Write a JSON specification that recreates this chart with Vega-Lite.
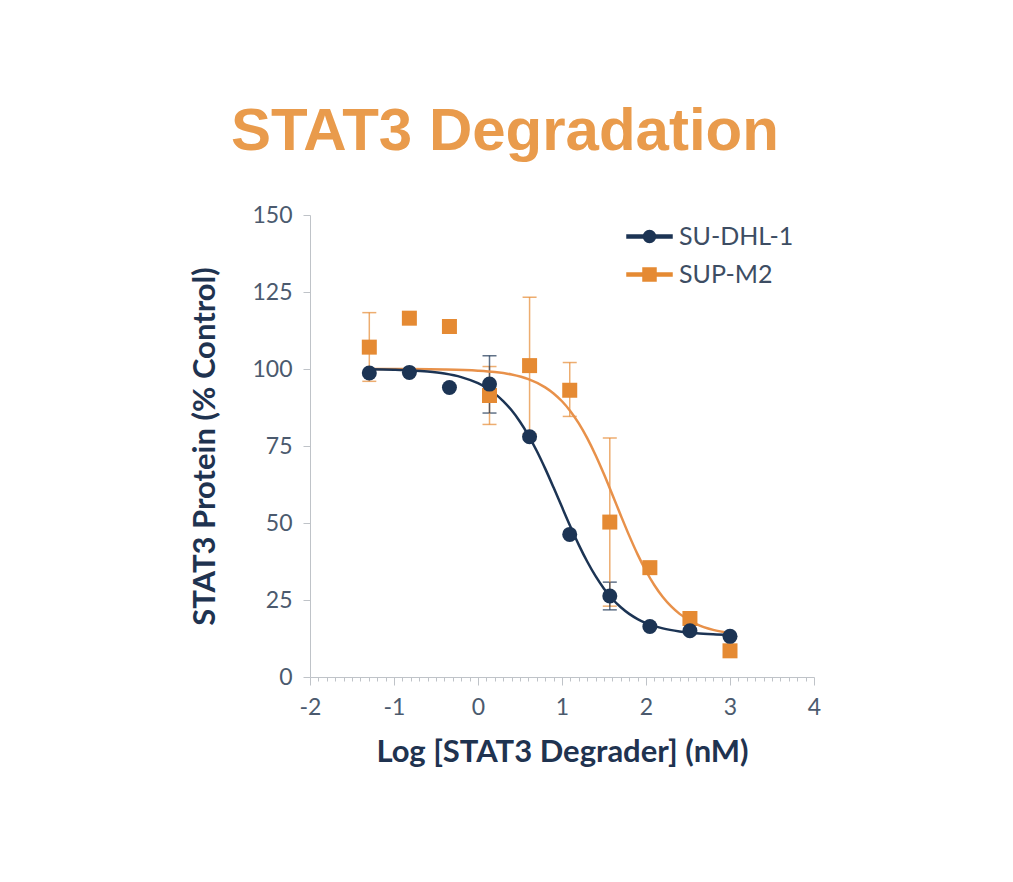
{
  "$schema": "https://vega.github.io/schema/vega-lite/v6.json",
  "description": "STAT3 degradation dose-response curves for two cell lines.",
  "width": 504,
  "height": 462,
  "autosize": {"type": "none"},
  "padding": {"left": 310, "top": 215, "right": 199, "bottom": 205},
  "background": "white",
  "config": {
    "view": {"stroke": null},
    "font": "Lato"
  },
  "title": {
    "text": "STAT3 Degradation",
    "font": "Liberation Sans",
    "fontSize": 60,
    "fontWeight": "bold",
    "color": "#E99B4C",
    "anchor": "middle",
    "dx": -57,
    "dy": 68,
    "baseline": "alphabetic",
    "offset": 62
  },
  "datasets": {
    "points": [
      {"line": "SUP-M2", "logc": -1.294, "pct": 107.1, "lo": 96.0, "hi": 118.3},
      {"line": "SUP-M2", "logc": -0.817, "pct": 116.5},
      {"line": "SUP-M2", "logc": -0.34, "pct": 113.8},
      {"line": "SUP-M2", "logc": 0.137, "pct": 91.4, "lo": 82.0, "hi": 100.8},
      {"line": "SUP-M2", "logc": 0.614, "pct": 101.1, "lo": 79.0, "hi": 123.3},
      {"line": "SUP-M2", "logc": 1.092, "pct": 93.1, "lo": 84.6, "hi": 102.1},
      {"line": "SUP-M2", "logc": 1.569, "pct": 50.3, "lo": 23.0, "hi": 77.6},
      {"line": "SUP-M2", "logc": 2.046, "pct": 35.5},
      {"line": "SUP-M2", "logc": 2.523, "pct": 19.0},
      {"line": "SUP-M2", "logc": 3.0, "pct": 8.5},
      {"line": "SU-DHL-1", "logc": -1.294, "pct": 98.7},
      {"line": "SU-DHL-1", "logc": -0.817, "pct": 98.9},
      {"line": "SU-DHL-1", "logc": -0.34, "pct": 94.0},
      {"line": "SU-DHL-1", "logc": 0.137, "pct": 95.1, "lo": 85.7, "hi": 104.3},
      {"line": "SU-DHL-1", "logc": 0.614, "pct": 78.0},
      {"line": "SU-DHL-1", "logc": 1.092, "pct": 46.3},
      {"line": "SU-DHL-1", "logc": 1.569, "pct": 26.3, "lo": 21.8, "hi": 30.8},
      {"line": "SU-DHL-1", "logc": 2.046, "pct": 16.4},
      {"line": "SU-DHL-1", "logc": 2.523, "pct": 15.0},
      {"line": "SU-DHL-1", "logc": 3.0, "pct": 13.2}
    ],
    "fitSUP": [
      {"line": "SUP-M2", "logc": -1.3, "pct": 99.99},
      {"line": "SUP-M2", "logc": -0.8, "pct": 99.96},
      {"line": "SUP-M2", "logc": -0.4, "pct": 99.85},
      {"line": "SUP-M2", "logc": 0.0, "pct": 99.47},
      {"line": "SUP-M2", "logc": 0.2, "pct": 99.02},
      {"line": "SUP-M2", "logc": 0.4, "pct": 98.2},
      {"line": "SUP-M2", "logc": 0.6, "pct": 96.7},
      {"line": "SUP-M2", "logc": 0.8, "pct": 94.05},
      {"line": "SUP-M2", "logc": 0.9, "pct": 92.07},
      {"line": "SUP-M2", "logc": 1.0, "pct": 89.53},
      {"line": "SUP-M2", "logc": 1.1, "pct": 86.31},
      {"line": "SUP-M2", "logc": 1.2, "pct": 82.34},
      {"line": "SUP-M2", "logc": 1.3, "pct": 77.56},
      {"line": "SUP-M2", "logc": 1.4, "pct": 72.01},
      {"line": "SUP-M2", "logc": 1.5, "pct": 65.82},
      {"line": "SUP-M2", "logc": 1.6, "pct": 59.2},
      {"line": "SUP-M2", "logc": 1.7, "pct": 52.46},
      {"line": "SUP-M2", "logc": 1.8, "pct": 45.9},
      {"line": "SUP-M2", "logc": 1.9, "pct": 39.82},
      {"line": "SUP-M2", "logc": 2.0, "pct": 34.42},
      {"line": "SUP-M2", "logc": 2.1, "pct": 29.8},
      {"line": "SUP-M2", "logc": 2.2, "pct": 25.98},
      {"line": "SUP-M2", "logc": 2.3, "pct": 22.91},
      {"line": "SUP-M2", "logc": 2.4, "pct": 20.49},
      {"line": "SUP-M2", "logc": 2.6, "pct": 17.19},
      {"line": "SUP-M2", "logc": 2.8, "pct": 15.3},
      {"line": "SUP-M2", "logc": 3.0, "pct": 14.25}
    ],
    "fitDHL": [
      {"line": "SU-DHL-1", "logc": -1.3, "pct": 99.9},
      {"line": "SU-DHL-1", "logc": -1.0, "pct": 99.74},
      {"line": "SU-DHL-1", "logc": -0.8, "pct": 99.54},
      {"line": "SU-DHL-1", "logc": -0.6, "pct": 99.17},
      {"line": "SU-DHL-1", "logc": -0.4, "pct": 98.52},
      {"line": "SU-DHL-1", "logc": -0.2, "pct": 97.37},
      {"line": "SU-DHL-1", "logc": 0.0, "pct": 95.38},
      {"line": "SU-DHL-1", "logc": 0.1, "pct": 93.9},
      {"line": "SU-DHL-1", "logc": 0.2, "pct": 92.0},
      {"line": "SU-DHL-1", "logc": 0.3, "pct": 89.59},
      {"line": "SU-DHL-1", "logc": 0.4, "pct": 86.58},
      {"line": "SU-DHL-1", "logc": 0.5, "pct": 82.89},
      {"line": "SU-DHL-1", "logc": 0.6, "pct": 78.48},
      {"line": "SU-DHL-1", "logc": 0.7, "pct": 73.38},
      {"line": "SU-DHL-1", "logc": 0.8, "pct": 67.66},
      {"line": "SU-DHL-1", "logc": 0.9, "pct": 61.51},
      {"line": "SU-DHL-1", "logc": 1.0, "pct": 55.16},
      {"line": "SU-DHL-1", "logc": 1.1, "pct": 48.87},
      {"line": "SU-DHL-1", "logc": 1.2, "pct": 42.91},
      {"line": "SU-DHL-1", "logc": 1.3, "pct": 37.49},
      {"line": "SU-DHL-1", "logc": 1.4, "pct": 32.73},
      {"line": "SU-DHL-1", "logc": 1.5, "pct": 28.68},
      {"line": "SU-DHL-1", "logc": 1.6, "pct": 25.33},
      {"line": "SU-DHL-1", "logc": 1.7, "pct": 22.63},
      {"line": "SU-DHL-1", "logc": 1.8, "pct": 20.49},
      {"line": "SU-DHL-1", "logc": 1.9, "pct": 18.81},
      {"line": "SU-DHL-1", "logc": 2.0, "pct": 17.52},
      {"line": "SU-DHL-1", "logc": 2.2, "pct": 15.78},
      {"line": "SU-DHL-1", "logc": 2.4, "pct": 14.78},
      {"line": "SU-DHL-1", "logc": 2.6, "pct": 14.21},
      {"line": "SU-DHL-1", "logc": 2.8, "pct": 13.9},
      {"line": "SU-DHL-1", "logc": 3.0, "pct": 13.72}
    ]
  },
  "encoding": {
    "x": {
      "field": "logc",
      "type": "quantitative",
      "scale": {"domain": [-2, 4], "nice": false, "zero": false},
      "axis": {
        "title": "Log [STAT3 Degrader] (nM)",
        "values": [-2, -1.9, -1.8, -1.7, -1.6, -1.5, -1.4, -1.3, -1.2, -1.1,
                   -1, -0.9, -0.8, -0.7, -0.6, -0.5, -0.4, -0.3, -0.2, -0.1,
                   0, 0.1, 0.2, 0.3, 0.4, 0.5, 0.6, 0.7, 0.8, 0.9,
                   1, 1.1, 1.2, 1.3, 1.4, 1.5, 1.6, 1.7, 1.8, 1.9,
                   2, 2.1, 2.2, 2.3, 2.4, 2.5, 2.6, 2.7, 2.8, 2.9,
                   3, 3.1, 3.2, 3.3, 3.4, 3.5, 3.6, 3.7, 3.8, 3.9, 4],
        "labelExpr": "datum.value == round(datum.value) ? '' + datum.value : ''",
        "labelOverlap": false,
        "labelFlush": false,
        "labelFontSize": 23,
        "labelColor": "#4b5a6e",
        "labelPadding": 11,
        "tickColor": "#bfc3c8",
        "tickSize": {"condition": {"test": "datum.value == round(datum.value)", "value": 8}, "value": 4},
        "domainColor": "#bfc3c8",
        "grid": false,
        "titleFontSize": 31,
        "titleFontWeight": "bold",
        "titleColor": "#1f3350",
        "titlePadding": 18
      }
    },
    "y": {
      "field": "pct",
      "type": "quantitative",
      "scale": {"domain": [0, 150], "nice": false},
      "axis": {
        "title": "STAT3 Protein (% Control)",
        "values": [0, 25, 50, 75, 100, 125, 150],
        "labelFontSize": 23,
        "labelColor": "#4b5a6e",
        "labelPadding": 11,
        "tickColor": "#bfc3c8",
        "tickSize": 7,
        "domainColor": "#bfc3c8",
        "grid": false,
        "titleFontSize": 31,
        "titleFontWeight": "bold",
        "titleColor": "#1f3350",
        "titlePadding": 30
      }
    },
    "color": {
      "field": "line",
      "type": "nominal",
      "scale": {"domain": ["SU-DHL-1", "SUP-M2"], "range": ["#1c3454", "#E58A33"]},
      "legend": {
        "title": null,
        "orient": "none",
        "legendX": 327,
        "legendY": 9,
        "padding": 0,
        "symbolSize": 400,
        "symbolOpacity": 1,
        "labelFontSize": 25,
        "labelColor": "#3d4d63",
        "labelOffset": 17,
        "rowPadding": 12
      }
    }
  },
  "layer": [
    {
      "data": {"name": "points"},
      "transform": [{"filter": "false"}],
      "mark": {"type": "point", "filled": true, "opacity": 1},
      "encoding": {
        "shape": {
          "field": "line",
          "type": "nominal",
          "scale": {
            "domain": ["SU-DHL-1", "SUP-M2"],
            "range": [
              "M -2.25 -0.14 H -0.5 V 0.14 H -2.25 Z M 0.5 -0.14 H 2.25 V 0.14 H 0.5 Z M -0.6 0 A 0.6 0.6 0 1 0 0.6 0 A 0.6 0.6 0 1 0 -0.6 0 Z",
              "M -2.25 -0.14 H -0.6 V 0.14 H -2.25 Z M 0.6 -0.14 H 2.25 V 0.14 H 0.6 Z M -0.65 -0.65 H 0.65 V 0.65 H -0.65 Z"
            ]
          },
          "legend": {"title": null}
        }
      }
    },
    {
      "data": {"name": "points"},
      "transform": [{"filter": "isValid(datum.lo)"}],
      "mark": {"type": "errorbar", "ticks": {"size": 14}, "thickness": 1.5},
      "encoding": {
        "y": {"field": "lo", "type": "quantitative"},
        "y2": {"field": "hi"},
        "opacity": {"value": 0.7}
      }
    },
    {
      "data": {"name": "fitSUP"},
      "mark": {"type": "line", "interpolate": "monotone", "strokeWidth": 2.5},
      "encoding": {"color": {"value": "#E8914A"}}
    },
    {
      "data": {"name": "fitDHL"},
      "mark": {"type": "line", "interpolate": "monotone", "strokeWidth": 2.5},
      "encoding": {"color": {"value": "#1c3454"}}
    },
    {
      "data": {"name": "points"},
      "transform": [{"filter": "datum.line == 'SUP-M2'"}],
      "mark": {"type": "point", "filled": true, "opacity": 1, "size": 225, "shape": "square"}
    },
    {
      "data": {"name": "points"},
      "transform": [{"filter": "datum.line == 'SU-DHL-1'"}],
      "mark": {"type": "point", "filled": true, "opacity": 1, "size": 225, "shape": "circle"}
    }
  ]
}
